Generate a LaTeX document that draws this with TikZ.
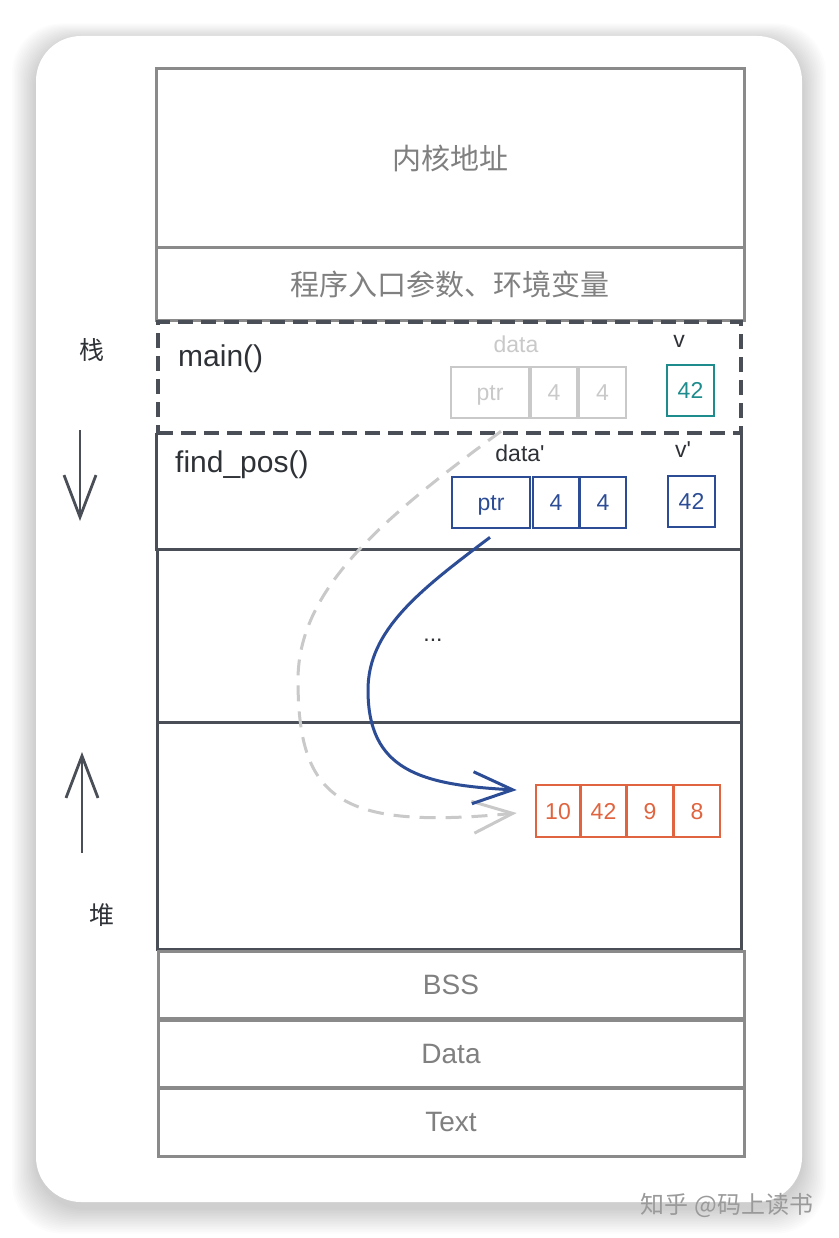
\documentclass[tikz,border=0pt]{standalone}
\usepackage{fontspec}
\setmainfont{Liberation Sans}
\newfontfamily\cjk{Noto Sans CJK SC}
\usetikzlibrary{arrows.meta,calc}
\definecolor{frameg}{HTML}{8A8A8A}
\definecolor{textg}{HTML}{808080}
\definecolor{darkl}{HTML}{4A4F57}
\definecolor{txtd}{HTML}{2E3136}
\definecolor{lightg}{HTML}{C9C9C9}
\definecolor{blu}{HTML}{2C4D96}
\definecolor{tealc}{HTML}{1E8C8C}
\definecolor{redc}{HTML}{E0643F}
\tikzset{
  seg/.style={rectangle, inner sep=0pt, anchor=center},
  graybox/.style={seg, draw=frameg, line width=3pt, text=textg},
  darkbox/.style={seg, draw=darkl, line width=3pt},
  cell/.style={seg, line width=2.6pt, minimum height=51pt, text height=16.5pt, text depth=0pt, font=\fontsize{23}{27}\selectfont},
  lbl/.style={inner sep=0pt, text=txtd, font=\fontsize{30}{34}\selectfont},
  small/.style={inner sep=0pt, text=txtd, font=\fontsize{23}{27}\selectfont},
  bigarrow/.style={line width=3pt, -{Straight Barb[length=40pt,width=32pt,line width=3pt]}},
}
\begin{document}
\begin{tikzpicture}[x=1pt,y=-1pt]
\useasboundingbox (0,0) rectangle (838,1238);
\fill[white] (0,0) rectangle (838,1238);
% card shadow
\foreach \i in {1,...,16}{
  \fill[black, opacity=0.01, rounded corners=50pt] ({36-\i*1.5},{36-\i*1.1+5}) rectangle ({802+\i*1.5},{1202+\i*1.6+6});
}
\fill[white, rounded corners=45pt] (36,36) rectangle (802,1202);

% upper segments
\node[graybox, minimum width=588pt, minimum height=179pt, font=\cjk\fontsize{29}{34}\selectfont] (kern) at (450,158.5) {内核地址};
\node[graybox, minimum width=588pt, minimum height=72pt, font=\cjk\fontsize{29}{34}\selectfont] (env) at (450,284) {程序入口参数、环境变量};

% stack frames
\node[seg, minimum width=584pt, minimum height=116pt] (find) at (449,491) {};
\draw[darkl, line width=3pt] (find.north west) -- (find.south west) -- (find.south east) -- (find.north east);
\node[darkbox, minimum width=584pt, minimum height=173pt] (dots) at (449,635.5) {};
\node[darkbox, minimum width=584pt, minimum height=227pt] (heap) at (449,835.5) {};
\node[seg, draw=darkl, line width=3.2pt, dash pattern=on 15pt off 8pt, minimum width=583pt, minimum height=111pt] (main) at (449.5,377.5) {};

\node[small] (ell) at (433,640) {...};

\node[lbl, anchor=west] (mainl) at (178,359) {main()};
\node[lbl, anchor=west] (findl) at (175,465) {find\_pos()};

% main's variables
\node[small, text=lightg] (datal) at (516,344) {data};
\node[cell, draw=lightg, text=lightg, minimum width=78pt] (ptrA) at (490,392.5) {ptr};
\node[cell, draw=lightg, text=lightg, minimum width=46pt] (a4a) at (554,392.5) {4};
\node[cell, draw=lightg, text=lightg, minimum width=47pt] (a4b) at (602.5,392.5) {4};
\node[small] (vl) at (679,341) {v};
\node[cell, draw=tealc, text=tealc, minimum width=47pt] (vA) at (690.5,390.5) {42};

% find_pos's variables
\node[small] (datapl) at (520,453) {data\textquotesingle};
\node[cell, draw=blu, text=blu, minimum width=78pt] (ptrB) at (491,502.5) {ptr};
\node[cell, draw=blu, text=blu, minimum width=46pt] (b4a) at (556,502.5) {4};
\node[cell, draw=blu, text=blu, minimum width=46pt] (b4b) at (603,502.5) {4};
\node[small] (vpl) at (683,450) {v\textquotesingle};
\node[cell, draw=blu, text=blu, minimum width=47pt] (vB) at (691.5,501.5) {42};

% heap array
\node[cell, draw=redc, text=redc, minimum width=44pt, minimum height=52pt] (r1) at (558,811) {10};
\node[cell, draw=redc, text=redc, minimum width=45pt, minimum height=52pt] (r2) at (603.5,811) {42};
\node[cell, draw=redc, text=redc, minimum width=46pt, minimum height=52pt] (r3) at (650,811) {9};
\node[cell, draw=redc, text=redc, minimum width=46pt, minimum height=52pt] (r4) at (697,811) {8};

% lower segments
\node[graybox, minimum width=586pt, minimum height=67pt, font=\fontsize{28}{32}\selectfont] (bss) at (451,984.5) {BSS};
\node[graybox, minimum width=586pt, minimum height=67pt, font=\fontsize{28}{32}\selectfont] (data) at (451,1053.5) {Data};
\node[graybox, minimum width=586pt, minimum height=68pt, font=\fontsize{28}{32}\selectfont] (text) at (451,1122) {Text};

% side labels and arrows
\node[inner sep=0pt, text=txtd, font=\cjk\fontsize{25}{30}\selectfont] (zhan) at (92,350) {栈};
\node[inner sep=0pt, text=txtd, font=\cjk\fontsize{25}{30}\selectfont] (dui) at (102,915) {堆};
\coordinate (dA) at (80,430);
\coordinate (dB) at (80,521);
\coordinate (uA) at (82,853);
\coordinate (uB) at (82,752);
\draw[darkl, line width=2.8pt, -{Straight Barb[length=42pt,width=32pt,line width=2.8pt]}] (dA) -- (dB);
\draw[darkl, line width=2.8pt, -{Straight Barb[length=42pt,width=32pt,line width=2.8pt]}] (uA) -- (uB);

% pointer arrows
\coordinate (gs) at ($(ptrA.south)+(11,12)$);
\coordinate (ge) at ($(r1.west)+(-18,2)$);
\draw[lightg, line width=3.2pt, dash pattern=on 16pt off 10pt, bigarrow] (gs) .. controls (380,520) and (298,590) .. (298,680) .. controls (298,800) and (340,830) .. (ge);
\coordinate (bs) at ($(ptrB.south)+(-1,8)$);
\coordinate (be) at ($(r1.west)+(-18,-21)$);
\draw[blu, bigarrow] (bs) .. controls (420,590) and (368,630) .. (368,690) .. controls (368,770) and (420,785) .. (be);

% watermark
\node[inner sep=0pt, text=textg!80, font=\cjk\fontsize{24}{28}\selectfont] (wm) at (727,1205) {知乎 @码上读书};
\end{tikzpicture}
\end{document}
